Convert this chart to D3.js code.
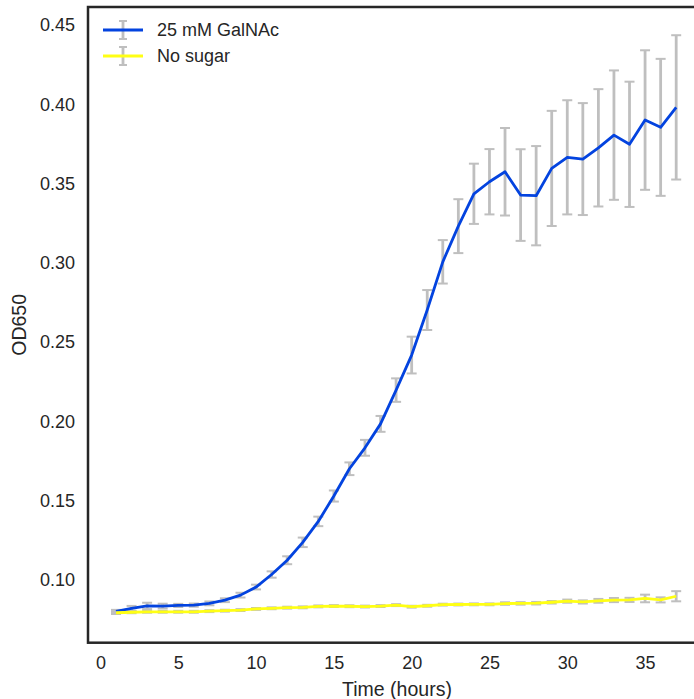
<!DOCTYPE html>
<html>
<head>
<meta charset="utf-8">
<script src="https://cdn.jsdelivr.net/npm/d3@7"></script>
<style>
  html, body { margin: 0; padding: 0; background: #fff; }
  svg text { font-family: "Liberation Sans", Arial, sans-serif; fill: #262626; }
</style>
</head>
<body>
<svg id="chart" width="694" height="699"></svg>
<script>
// Growth curve: OD650 over time, mean with error bars
const hours = d3.range(1, 38);

const galnacMean = [
  0.0802, 0.0822, 0.0837, 0.0836, 0.0840, 0.0842, 0.0853, 0.0873, 0.0905, 0.0956,
  0.1035, 0.1125, 0.1238, 0.1370, 0.1530, 0.1702, 0.1834, 0.1985, 0.2198, 0.2419,
  0.2703, 0.3007, 0.3232, 0.3436, 0.3512, 0.3575, 0.3428, 0.3424, 0.3596, 0.3666,
  0.3655, 0.3726, 0.3806, 0.3748, 0.3901, 0.3855, 0.3981
];
const galnacErr = [
  0.0010, 0.0015, 0.0020, 0.0015, 0.0010, 0.0010, 0.0012, 0.0012, 0.0015, 0.0015,
  0.0020, 0.0025, 0.0030, 0.0030, 0.0035, 0.0040, 0.0050, 0.0050, 0.0074, 0.0116,
  0.0126, 0.0137, 0.0170, 0.0190, 0.0206, 0.0276, 0.0289, 0.0313, 0.0363, 0.0360,
  0.0353, 0.0370, 0.0408, 0.0395, 0.0440, 0.0432, 0.0455
];

const noSugarMean = [
  0.0794, 0.0797, 0.0800, 0.0800, 0.0800, 0.0800, 0.0804, 0.0807, 0.0811, 0.0818,
  0.0822, 0.0826, 0.0828, 0.0834, 0.0836, 0.0835, 0.0833, 0.0836, 0.0842, 0.0832,
  0.0838, 0.0845, 0.0846, 0.0847, 0.0847, 0.0852, 0.0853, 0.0854, 0.0860, 0.0867,
  0.0862, 0.0869, 0.0874, 0.0875, 0.0884, 0.0875, 0.0898
];
const noSugarErr = [
  0.0008, 0.0006, 0.0006, 0.0006, 0.0006, 0.0006, 0.0006, 0.0006, 0.0006, 0.0006,
  0.0006, 0.0006, 0.0006, 0.0006, 0.0006, 0.0006, 0.0006, 0.0006, 0.0006, 0.0006,
  0.0006, 0.0006, 0.0006, 0.0006, 0.0006, 0.0008, 0.0008, 0.0008, 0.0008, 0.0010,
  0.0010, 0.0012, 0.0013, 0.0013, 0.0024, 0.0016, 0.0032
];

const xTicks = [0, 5, 10, 15, 20, 25, 30, 35];
const yTicks = [0.10, 0.15, 0.20, 0.25, 0.30, 0.35, 0.40, 0.45];

const seriesNames = ["25 mM GalNAc", "No sugar"];
const seriesColors = ["#0343df", "#ffff14"];
const errColor = "#bfbfbf";

const series = [
  { name: seriesNames[0], color: seriesColors[0], mean: galnacMean, err: galnacErr },
  { name: seriesNames[1], color: seriesColors[1], mean: noSugarMean, err: noSugarErr }
];

const svg = d3.select("#chart");
const plotL = 88, plotR = 700, plotT = 7, plotB = 642.7;

const x = d3.scaleLinear().domain([-0.8, 38.53]).range([plotL, plotR]);
const y = d3.scaleLinear().domain([0.0605, 0.4614]).range([plotB, plotT]);

// error bars (drawn under the lines)
const errLayer = svg.append("g");
series.forEach(s => {
  const g = errLayer.append("g");
  hours.forEach((h, i) => {
    const cx = x(h), y0 = y(s.mean[i] - s.err[i]), y1 = y(s.mean[i] + s.err[i]);
    g.append("line").attr("x1", cx).attr("x2", cx).attr("y1", y0).attr("y2", y1)
      .attr("stroke", errColor).attr("stroke-width", 2.8);
    [y0, y1].forEach(yy => g.append("line")
      .attr("x1", cx - 5).attr("x2", cx + 5).attr("y1", yy).attr("y2", yy)
      .attr("stroke", errColor).attr("stroke-width", 2));
  });
});

// mean lines
const line = d3.line().x((d, i) => x(hours[i])).y(d => y(d));
series.forEach(s => {
  svg.append("path").datum(s.mean)
    .attr("d", line)
    .attr("fill", "none")
    .attr("stroke", s.color)
    .attr("stroke-width", 2.8)
    .attr("stroke-linejoin", "round");
});

// axes without tick marks
const xAxis = svg.append("g").attr("transform", `translate(0,${plotB})`)
  .call(d3.axisBottom(x).tickValues(xTicks).tickSize(0).tickPadding(14).tickFormat(d3.format("d")));
xAxis.select(".domain").remove();
xAxis.selectAll("text").attr("font-size", 18).attr("dy", "0.71em");

const yAxis = svg.append("g").attr("transform", `translate(${plotL},0)`)
  .call(d3.axisLeft(y).tickValues(yTicks).tickSize(0).tickPadding(13).tickFormat(d3.format(".2f")));
yAxis.select(".domain").remove();
yAxis.selectAll("text").attr("font-size", 18);

// frame
svg.append("rect")
  .attr("x", plotL).attr("y", plotT)
  .attr("width", plotR - plotL).attr("height", plotB - plotT)
  .attr("fill", "none").attr("stroke", "#262626").attr("stroke-width", 2.5);

// axis titles
svg.append("text")
  .attr("x", (plotL + 694) / 2 + 6).attr("y", 696)
  .attr("text-anchor", "middle").attr("font-size", 19.5)
  .text("Time (hours)");

svg.append("text")
  .attr("transform", `translate(26,${(plotT + plotB) / 2}) rotate(-90)`)
  .attr("text-anchor", "middle").attr("font-size", 19.5)
  .text("OD650");

// legend
const legend = svg.append("g");
series.forEach((s, i) => {
  const ly = 30 + i * 26;
  legend.append("line").attr("x1", 123).attr("x2", 123).attr("y1", ly - 9).attr("y2", ly + 9)
    .attr("stroke", errColor).attr("stroke-width", 2.8);
  [ly - 9, ly + 9].forEach(yy => legend.append("line")
    .attr("x1", 119).attr("x2", 127).attr("y1", yy).attr("y2", yy)
    .attr("stroke", errColor).attr("stroke-width", 2));
  legend.append("line").attr("x1", 103).attr("x2", 143).attr("y1", ly).attr("y2", ly)
    .attr("stroke", s.color).attr("stroke-width", 2.8);
  legend.append("text").attr("x", 157).attr("y", ly).attr("dy", "0.35em")
    .attr("font-size", 18).text(s.name);
});
</script>
</body>
</html>
